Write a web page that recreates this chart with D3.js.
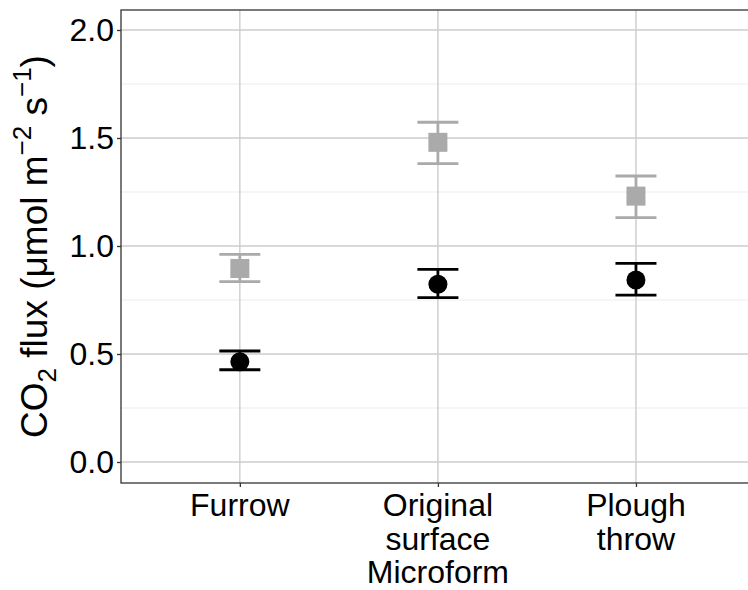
<!DOCTYPE html>
<html>
<head>
<meta charset="utf-8">
<script src="https://cdn.jsdelivr.net/npm/d3@7"></script>
<style>
  body { margin: 0; background: #fff; }
  svg { display: block; font-family: "Liberation Sans", Arial, sans-serif; }
</style>
</head>
<body>
<svg id="chart" width="748" height="590"></svg>
<script>
// ---- data ----
const categories = ["Furrow", "Original surface Microform", "Plough throw"];
const categoryLines = [["Furrow"], ["Original", "surface", "Microform"], ["Plough", "throw"]];
const blackMean = [0.464, 0.823, 0.843];
const blackLow  = [0.427, 0.761, 0.773];
const blackHigh = [0.514, 0.892, 0.920];
const greyMean  = [0.896, 1.480, 1.231];
const greyLow   = [0.835, 1.381, 1.131];
const greyHigh  = [0.961, 1.573, 1.324];
const yTicks = [0.0, 0.5, 1.0, 1.5, 2.0];
const yMinorTicks = [0.25, 0.75, 1.25, 1.75];
const yTickLabels = ["0.0", "0.5", "1.0", "1.5", "2.0"];

// ---- layout ----
const svg = d3.select("#chart");
const panel = { left: 121, top: 10, right: 754.8, bottom: 483 };

const x = d3.scalePoint().domain(categories).range([panel.left, panel.right]).padding(0.6);
const y = d3.scaleLinear().domain([-0.0972, 2.0926]).range([panel.bottom, panel.top]);

const g = svg.append("g");

// minor gridlines
g.selectAll("line.minor").data(yMinorTicks).enter().append("line")
  .attr("x1", panel.left).attr("x2", panel.right)
  .attr("y1", d => y(d)).attr("y2", d => y(d))
  .attr("stroke", "#ebebeb").attr("stroke-width", 1);

// major gridlines horizontal
g.selectAll("line.major").data(yTicks).enter().append("line")
  .attr("x1", panel.left).attr("x2", panel.right)
  .attr("y1", d => y(d)).attr("y2", d => y(d))
  .attr("stroke", "#cccccc").attr("stroke-width", 1.4);

// major gridlines vertical
g.selectAll("line.vmajor").data(categories).enter().append("line")
  .attr("x1", d => x(d)).attr("x2", d => x(d))
  .attr("y1", panel.top).attr("y2", panel.bottom)
  .attr("stroke", "#cccccc").attr("stroke-width", 1.4);

// panel border
g.append("rect")
  .attr("x", panel.left).attr("y", panel.top)
  .attr("width", panel.right - panel.left).attr("height", panel.bottom - panel.top)
  .attr("fill", "none").attr("stroke", "#333333").attr("stroke-width", 1.3);

// y axis
const yAxis = d3.axisLeft(y).tickValues(yTicks).tickSize(4).tickPadding(3)
  .tickFormat((d, i) => yTickLabels[i]);
const yg = svg.append("g").attr("transform", `translate(${panel.left},0)`).call(yAxis);
yg.select(".domain").remove();
yg.selectAll(".tick line").attr("stroke", "#333333").attr("stroke-width", 1.3);
yg.selectAll(".tick text").attr("font-size", 32).attr("fill", "#000")
  .attr("font-family", "Liberation Sans, Arial, sans-serif");

// x axis
const xAxis = d3.axisBottom(x).tickSize(4).tickFormat("");
const xg = svg.append("g").attr("transform", `translate(0,${panel.bottom})`).call(xAxis);
xg.select(".domain").remove();
xg.selectAll(".tick line").attr("stroke", "#333333").attr("stroke-width", 1.3);
categories.forEach((c, i) => {
  const t = svg.append("text")
    .attr("x", x(c)).attr("y", 516)
    .attr("text-anchor", "middle").attr("font-size", 32).attr("fill", "#000");
  categoryLines[i].forEach((line, j) => {
    t.append("tspan").attr("x", x(c)).attr("dy", j === 0 ? 0 : 33.5).text(line);
  });
});

// y title
const title = svg.append("text")
  .attr("transform", `translate(47,${(panel.top + panel.bottom) / 2}) rotate(-90)`)
  .attr("text-anchor", "middle").attr("font-size", 37).attr("fill", "#000");
title.append("tspan").text("CO");
title.append("tspan").attr("font-size", 26).attr("dy", 9).text("2");
title.append("tspan").attr("dy", -9).text(" flux (μmol m");
title.append("tspan").attr("font-size", 26).attr("dy", -16).text("−2");
title.append("tspan").attr("dy", 16).text(" s");
title.append("tspan").attr("font-size", 26).attr("dy", -16).text("−1");
title.append("tspan").attr("dy", 16).text(")");

// series
const series = [
  { mean: greyMean, low: greyLow, high: greyHigh, color: "#aaaaaa", shape: "square" },
  { mean: blackMean, low: blackLow, high: blackHigh, color: "#000000", shape: "circle" }
];
const capHalf = 20.5;
series.forEach(s => {
  const sg = svg.append("g");
  categories.forEach((c, i) => {
    const cx = x(c);
    sg.append("line").attr("x1", cx).attr("x2", cx)
      .attr("y1", y(s.low[i])).attr("y2", y(s.high[i]))
      .attr("stroke", s.color).attr("stroke-width", 2.8);
    [s.low[i], s.high[i]].forEach(v => {
      sg.append("line").attr("x1", cx - capHalf).attr("x2", cx + capHalf)
        .attr("y1", y(v)).attr("y2", y(v))
        .attr("stroke", s.color).attr("stroke-width", 2.8);
    });
    if (s.shape === "square") {
      sg.append("rect").attr("x", cx - 9.5).attr("y", y(s.mean[i]) - 9.5)
        .attr("width", 19).attr("height", 19).attr("fill", s.color);
    } else {
      sg.append("circle").attr("cx", cx).attr("cy", y(s.mean[i])).attr("r", 9.5)
        .attr("fill", s.color);
    }
  });
});
</script>
</body>
</html>
